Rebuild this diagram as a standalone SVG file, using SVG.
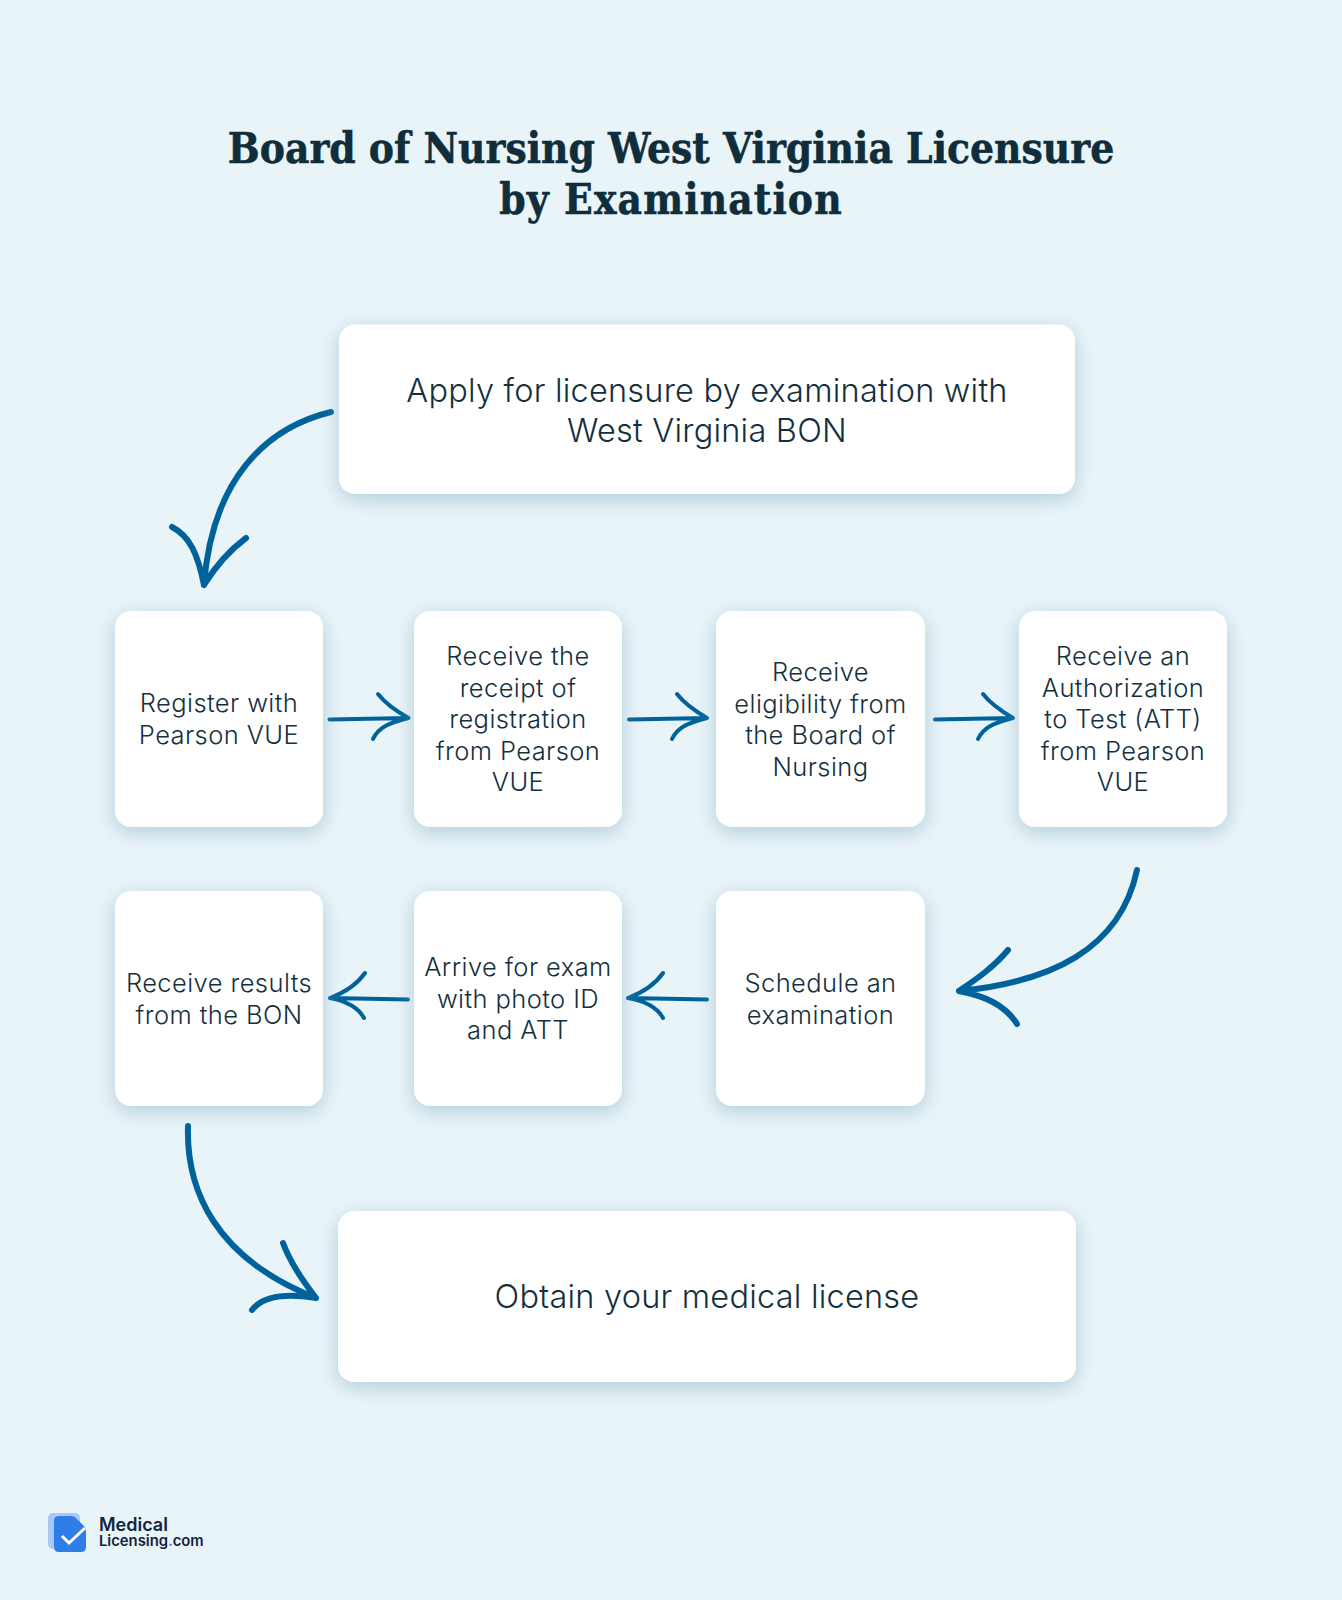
<svg xmlns="http://www.w3.org/2000/svg" width="1342" height="1600" viewBox="0 0 1342 1600">
<defs>
<filter id="sh" x="-30%" y="-30%" width="160%" height="160%"><feDropShadow dx="0" dy="5" stdDeviation="10" flood-color="#7fa8bc" flood-opacity="0.55"/></filter>
</defs>
<style>
.box{fill:#fff;filter:url(#sh)}
.t{font-family:"Inter","Liberation Sans",sans-serif;font-weight:300;fill:#15303d;text-anchor:middle}
.s{font-size:25.5px;letter-spacing:.42px}
.b{font-size:32.5px;letter-spacing:.22px}
.title{font-family:"DejaVu Serif","Liberation Serif",serif;font-stretch:condensed;font-weight:700;font-size:42px;fill:#0f2d3a;stroke:#0f2d3a;stroke-width:.5px;text-anchor:middle}
.big{fill:none;stroke:#00629b;stroke-width:6;stroke-linecap:round;stroke-linejoin:round}
.small{fill:none;stroke:#00629b;stroke-width:4;stroke-linecap:round;stroke-linejoin:round}
</style>
<rect width="1342" height="1600" fill="#e9f4f9"/>
<g id="title"><text class="title" x="671" y="163">Board of Nursing West Virginia Licensure</text><text class="title" x="671" y="214" letter-spacing="1.100">by Examination</text></g>
<g id="connectors">
<path class="big" d="M331 412C265 428 212 480 204 585M172 527C190 536 198 555 204 585M246 538C230 550 215 567 204 585"/>
<path class="small" d="M329.500 719.500L408.500 718M378 694C385 703 396 711 408.500 718M373 739C378 728 388 723 408.500 718"/>
<path class="small" d="M629 719.500L707 718M677 694C684 703 695 711 707 718M672 739C677 728 687 723 707 718"/>
<path class="small" d="M935 719.500L1013 718M983 694C990 703 1001 711 1013 718M978 739C983 728 993 723 1013 718"/>
<path class="big" d="M1137 870C1120 950 1050 982 959 991M1008 950C993 968 975 980 959 991M1017 1024C1005 1005 985 996 959 991"/>
<path class="small" d="M707 999.500L628 998M663 973C656 983 644 992 628 998M663 1018C657 1007 645 1001 628 998"/>
<path class="small" d="M408 999.500L330 998M365 973C358 983 346 992 330 998M364 1018C358 1007 346 1001 330 998"/>
<path class="big" d="M188 1126C186 1190 215 1258 316 1298M283 1243C290 1262 302 1280 316 1298M252 1310C263 1296 285 1293 316 1298"/>
</g>
<g id="n1"><rect class="box" x="339" y="324.500" width="736" height="169.500" rx="16"/><text class="t b" x="707" y="402">Apply for licensure by examination with</text><text class="t b" x="707" y="441.500">West Virginia BON</text></g>
<g id="n2"><rect class="box" x="115" y="611" width="208" height="216" rx="16"/><text class="t s" x="219" y="712">Register with</text><text class="t s" x="219" y="743.500">Pearson VUE</text></g>
<g id="n3"><rect class="box" x="414" y="611" width="208" height="216" rx="16"/><text class="t s" x="518" y="665">Receive the</text><text class="t s" x="518" y="696.500">receipt of</text><text class="t s" x="518" y="728">registration</text><text class="t s" x="518" y="759.500">from Pearson</text><text class="t s" x="518" y="791">VUE</text></g>
<g id="n4"><rect class="box" x="716" y="611" width="209" height="216" rx="16"/><text class="t s" x="820.500" y="681">Receive</text><text class="t s" x="820.500" y="712.500">eligibility from</text><text class="t s" x="820.500" y="744">the Board of</text><text class="t s" x="820.500" y="775.500">Nursing</text></g>
<g id="n5"><rect class="box" x="1019" y="611" width="208" height="216" rx="16"/><text class="t s" x="1123" y="665">Receive an</text><text class="t s" x="1123" y="696.500">Authorization</text><text class="t s" x="1123" y="728">to Test (ATT)</text><text class="t s" x="1123" y="759.500">from Pearson</text><text class="t s" x="1123" y="791">VUE</text></g>
<g id="n6"><rect class="box" x="716" y="891" width="209" height="215" rx="16"/><text class="t s" x="820.500" y="992">Schedule an</text><text class="t s" x="820.500" y="1024">examination</text></g>
<g id="n7"><rect class="box" x="414" y="891" width="208" height="215" rx="16"/><text class="t s" x="518" y="976">Arrive for exam</text><text class="t s" x="518" y="1007.500">with photo ID</text><text class="t s" x="518" y="1039">and ATT</text></g>
<g id="n8"><rect class="box" x="115" y="891" width="208" height="215" rx="16"/><text class="t s" x="219" y="992">Receive results</text><text class="t s" x="219" y="1024">from the BON</text></g>
<g id="n9"><rect class="box" x="338" y="1211" width="738" height="171" rx="16"/><text class="t b" x="707" y="1308">Obtain your medical license</text></g>
<g id="logo">
<rect x="48" y="1513" width="32" height="36" rx="5" fill="#a9c8f5"/>
<path d="M59 1516H71Q74 1516 76 1518L84 1526Q86 1528 86 1531V1547Q86 1552 81 1552H59Q54 1552 54 1547V1521Q54 1516 59 1516Z" fill="#2f7de8"/>
<path d="M62 1536L69 1543L85 1528" fill="none" stroke="#fff" stroke-width="3"/>
<text x="99" y="1531" font-family="Inter,'Liberation Sans',sans-serif" font-weight="600" font-size="18" fill="#0f2440">Medical</text>
<text x="99" y="1546" font-family="Inter,'Liberation Sans',sans-serif" font-weight="600" font-size="14.800" fill="#0f2440">Licensing<tspan fill="#2f7de8">.</tspan>com</text>
</g>
</svg>
